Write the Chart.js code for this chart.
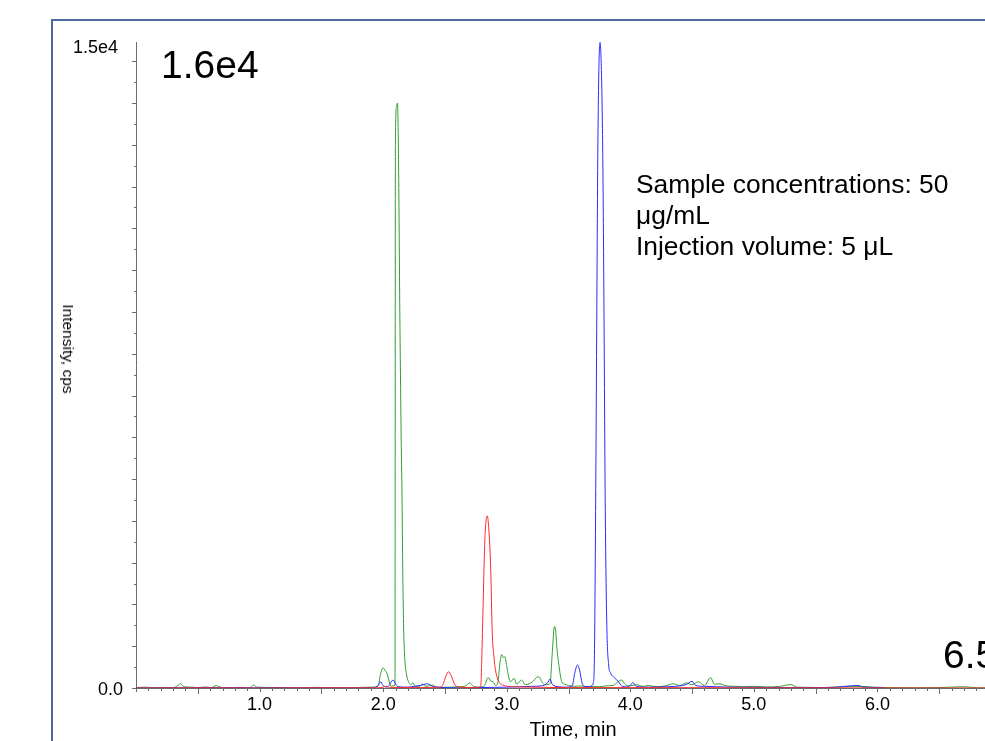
<!DOCTYPE html>
<html>
<head>
<meta charset="utf-8">
<script src="https://cdn.jsdelivr.net/npm/chart.js@4.4.0/dist/chart.umd.min.js"></script>
<style>
html, body { margin:0; padding:0; background:#fff; overflow:hidden; width:985px; height:741px; }
#frame { position:absolute; left:51px; top:19px; width:1000px; height:800px; border-left:2px solid #4a6a9c; border-top:2px solid #4a6a9c; }
#wrap { position:absolute; left:0; top:0; width:1007px; height:741px; }
.note { position:absolute; font-family:"Liberation Sans", Arial, sans-serif; color:#000; white-space:nowrap; }
</style>
</head>
<body>
<div id="frame"></div>
<div id="wrap"><canvas id="chromatogram" width="1007" height="741"></canvas></div>
<div class="note" style="left:161px;top:45px;font-size:39px;line-height:39px;">1.6e4</div>
<div class="note" style="left:943px;top:635px;font-size:39px;line-height:39px;">6.5</div>
<div class="note" style="left:636px;top:169px;font-size:26.4px;line-height:31px;">Sample concentrations: 50<br>μg/mL<br>Injection volume: 5 μL</div>
<div class="note" style="left:573px;top:729px;font-size:20px;line-height:20px;transform:translate(-50%,-50%);">Time, min</div>
<div class="note" style="left:68px;top:349px;font-size:15.5px;line-height:16px;transform:translate(-50%,-50%) rotate(90deg);">Intensity, cps</div>
<script>
// retention time (min) and intensity (cps)
var greenTime = [0.00,0.08,0.15,0.22,0.30,0.34,0.36,0.39,0.45,0.50,0.56,0.61,0.65,0.68,0.75,0.84,0.92,0.95,0.98,1.06,1.17,1.30,1.45,1.58,1.72,1.84,1.92,1.96,1.98,2.00,2.02,2.03,2.05,2.065,2.08,2.096,2.099,2.108,2.116,2.125,2.135,2.145,2.153,2.160,2.167,2.175,2.19,2.21,2.225,2.24,2.26,2.29,2.32,2.34,2.37,2.40,2.43,2.48,2.55,2.62,2.66,2.70,2.73,2.78,2.82,2.85,2.87,2.89,2.91,2.93,2.945,2.96,2.975,2.985,3.00,3.01,3.03,3.06,3.08,3.12,3.15,3.18,3.21,3.24,3.26,3.29,3.32,3.35,3.37,3.386,3.395,3.405,3.424,3.445,3.47,3.50,3.55,3.60,3.65,3.70,3.75,3.80,3.86,3.90,3.93,3.96,4.00,4.05,4.10,4.15,4.20,4.28,4.35,4.40,4.45,4.50,4.55,4.60,4.65,4.68,4.72,4.78,4.85,4.92,5.00,5.10,5.20,5.30,5.35,5.45,5.55,5.70,5.80,5.90,5.97,6.10,6.30,6.50,6.70,6.80,7.00];
var greenIntensity = [10,20,5,15,10,60,100,30,20,10,25,10,60,20,10,15,10,70,20,15,10,5,15,10,5,15,20,60,350,480,400,360,150,40,50,60,13000,13900,14000,12500,9000,6200,4500,2500,1300,700,310,125,80,125,40,30,100,40,50,70,20,15,20,30,40,120,40,20,60,250,170,150,60,150,600,800,720,750,530,350,150,230,90,190,80,100,150,250,270,120,80,100,900,1470,1400,990,510,150,90,60,40,50,30,40,30,50,60,150,190,80,50,80,40,60,30,50,100,60,120,80,150,60,250,90,100,50,40,30,40,25,35,80,20,15,10,30,40,35,20,10,5,10,30,5,0];

var blueTime = [0.00,0.30,0.60,0.90,1.20,1.50,1.80,1.92,1.96,1.98,2.00,2.03,2.06,2.08,2.10,2.12,2.20,2.25,2.30,2.36,2.40,2.50,2.60,2.75,2.90,3.00,3.10,3.20,3.28,3.33,3.35,3.37,3.42,3.48,3.53,3.55,3.573,3.59,3.61,3.63,3.67,3.69,3.70,3.71,3.72,3.73,3.738,3.755,3.776,3.785,3.797,3.81,3.825,3.84,3.87,3.905,3.93,3.97,4.00,4.02,4.05,4.15,4.30,4.40,4.45,4.50,4.53,4.60,4.70,4.80,5.00,5.30,5.60,5.85,5.88,6.05];
var blueIntensity = [0,5,10,5,5,5,5,10,60,150,60,20,120,190,100,30,20,40,60,100,40,10,5,10,15,20,30,40,50,120,215,80,30,20,50,350,550,420,120,40,30,60,120,800,4500,9500,13100,15450,13100,10000,4500,1500,550,360,250,150,50,30,60,130,40,20,30,50,80,160,60,40,30,20,15,10,10,60,20,10];

var redTime = [0.00,0.50,1.00,1.50,1.95,2.00,2.02,2.05,2.30,2.45,2.48,2.51,2.53,2.55,2.58,2.62,2.70,2.78,2.79,2.80,2.81,2.823,2.843,2.855,2.87,2.883,2.895,2.905,2.93,2.97,3.05,3.20,3.50,4.00,5.00,7.00];
var redIntensity = [0,5,0,5,5,20,40,15,10,20,60,300,390,300,80,20,10,20,60,900,2100,3540,4120,3800,2900,1310,800,510,190,70,30,20,10,10,5,0];

var xTickValues = [1, 2, 3, 4, 5, 6];
var xTickLabels = ['1.0', '2.0', '3.0', '4.0', '5.0', '6.0'];
var yMax = 15460;
var yTickValues = [0, 15360];
var yTickLabels = ['0.0', '1.5e4 '];

function zip(t, v) {
    var pts = [];
    for (var i = 0; i < t.length; i++) pts.push({ x: t[i], y: v[i] });
    return pts;
}

var font = '"Liberation Sans", Arial, sans-serif';

// minor tick marks and axis lines, placed with the chart's own scales
var tickMarks = {
    id: 'tickMarks',
    beforeDatasetsDraw: function (chart) {
        var ctx = chart.ctx, area = chart.chartArea, sx = chart.scales.x, sy = chart.scales.y;
        ctx.save();
        ctx.strokeStyle = '#6b6b6b';
        ctx.lineWidth = 1;
        ctx.beginPath();
        ctx.moveTo(area.left + 0.5, area.top);
        ctx.lineTo(area.left + 0.5, area.bottom + 1);
        ctx.moveTo(area.left, area.bottom + 0.5);
        ctx.lineTo(area.right, area.bottom + 0.5);
        sx.ticks.forEach(function (t) {
            var px = Math.round(sx.getPixelForValue(t.value)) + 0.5;
            var k = Math.round(t.value * 10);
            var len = k % 10 === 0 ? 4 : (k % 5 === 0 ? 6 : 3);
            ctx.moveTo(px, area.bottom);
            ctx.lineTo(px, area.bottom + len);
        });
        sy.ticks.forEach(function (t) {
            if (t.value > 15000 || t.value % 500 !== 0) return;
            var py = Math.round(sy.getPixelForValue(t.value)) + 0.5;
            var len = t.value % 1000 === 0 ? 4 : 2;
            ctx.moveTo(area.left - len, py);
            ctx.lineTo(area.left, py);
        });
        ctx.stroke();
        ctx.restore();
    }
};

new Chart(document.getElementById('chromatogram'), {
    type: 'line',
    data: {
        datasets: [
            { label: 'red', data: zip(redTime, redIntensity), borderColor: '#ff2a2a' },
            { label: 'blue', data: zip(blueTime, blueIntensity), borderColor: '#2a2aff' },
            { label: 'green', data: zip(greenTime, greenIntensity), borderColor: '#2f9f2f' }
        ]
    },
    options: {
        responsive: false,
        animation: false,
        devicePixelRatio: 1,
        layout: { padding: { top: 42, left: 0, right: 0, bottom: 0 } },
        elements: {
            point: { radius: 0 },
            line: { borderWidth: 1, cubicInterpolationMode: 'monotone', fill: false }
        },
        plugins: { legend: { display: false }, tooltip: { enabled: false } },
        scales: {
            x: {
                type: 'linear',
                min: 0,
                max: 7,
                grid: { display: false, tickLength: 0 },
                border: { display: false },
                ticks: {
                    stepSize: 0.1,
                    autoSkip: false,
                    maxRotation: 0,
                    padding: 6,
                    color: '#000',
                    font: { family: font, size: 18 },
                    callback: function (v) {
                        for (var i = 0; i < xTickValues.length; i++) {
                            if (Math.abs(v - xTickValues[i]) < 1e-6) return xTickLabels[i];
                        }
                        return '';
                    }
                },
                afterFit: function (s) { s.height = 53; }
            },
            y: {
                type: 'linear',
                min: 0,
                max: yMax,
                grid: { display: false, tickLength: 0 },
                border: { display: false },
                afterBuildTicks: function (s) {
                    var list = [];
                    for (var v = 0; v <= 15000; v += 500) list.push({ value: v });
                    list.push({ value: yTickValues[1] });
                    s.ticks = list;
                },
                ticks: {
                    autoSkip: false,
                    padding: 13,
                    labelOffset: 2,
                    color: '#000',
                    font: { family: font, size: 18 },
                    callback: function (v) {
                        var i = yTickValues.indexOf(v);
                        return i >= 0 ? yTickLabels[i] : '';
                    }
                },
                afterFit: function (s) { s.width = 136; }
            }
        }
    },
    plugins: [tickMarks]
});
</script>
</body>
</html>
